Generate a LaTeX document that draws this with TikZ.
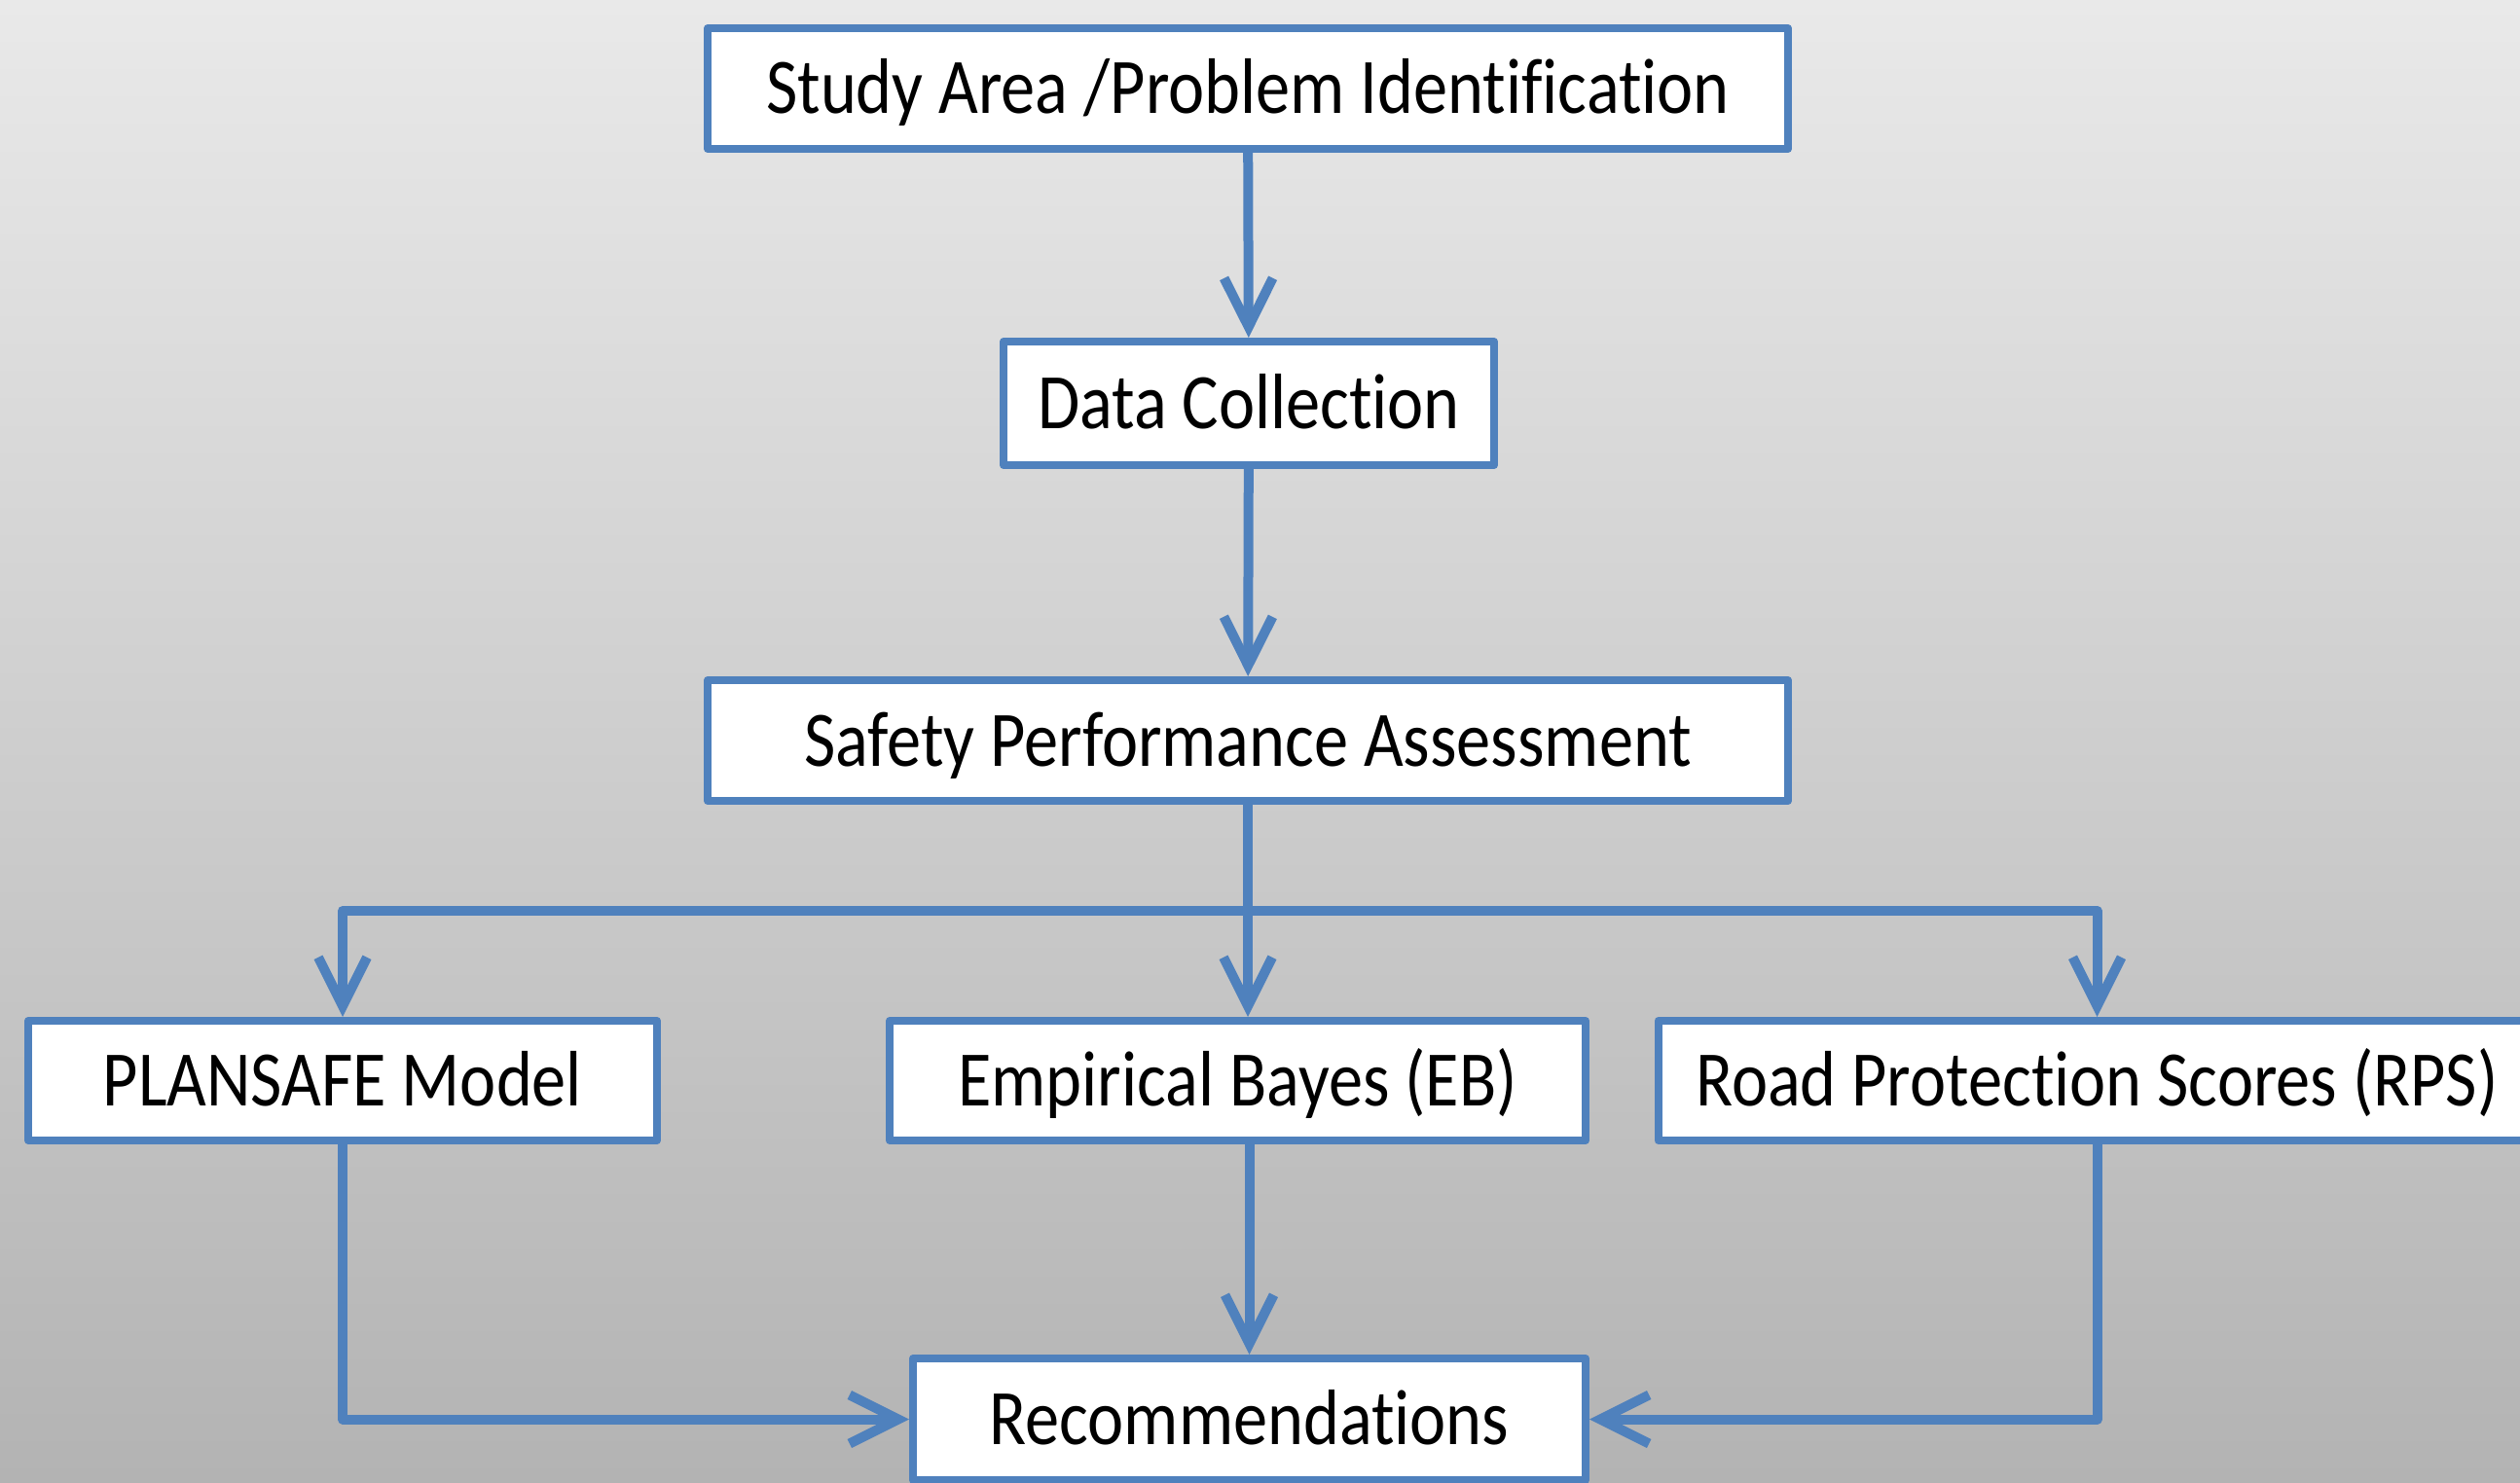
\documentclass[tikz,border=0pt]{standalone}
\usepackage{fontspec}
\setmainfont{Carlito}[FakeStretch=0.87,Ligatures=NoCommon]
\usepackage{tikz}
\usetikzlibrary{arrows.meta}
\usetikzlibrary{positioning}
\definecolor{FlowBlue}{RGB}{79,129,189}
\definecolor{PageTop}{RGB}{233,233,233}
\definecolor{PageBottom}{RGB}{179,179,179}

\begin{document}
\begin{tikzpicture}[line cap=round,line join=round,>={Straight Barb[length=0.5cm,width=0.5cm]},x=1cm,y=1cm,
  stage/.style={draw=FlowBlue,line width=0.08cm,fill=white,inner sep=0pt,minimum height=1.24cm,text height=0.52cm,text depth=0pt,font=\fontsize{23}{27}\selectfont},
  flow/.style={draw=FlowBlue,line width=0.1cm}]
\shade[top color=PageTop,bottom color=PageBottom] (0,0) rectangle (25.89,15.23);
\useasboundingbox (0,0) rectangle (25.89,15.23);
\node[stage,minimum width=11.10cm] (study) at (12.82,14.32) {Study Area /Problem Identification};
\node[stage,minimum width=5.04cm,minimum height=1.27cm] (data) at (12.83,11.085) {Data Collection};
\node[stage,minimum width=11.10cm] (spa) at (12.82,7.62) {Safety Performance Assessment};
\node[stage,minimum width=6.46cm,minimum height=1.23cm] (plansafe) at (3.52,4.125) {PLANSAFE Model};
\node[stage,minimum width=7.15cm,minimum height=1.23cm] (eb) at (12.715,4.125) {Empirical Bayes (EB)};
\node[stage,minimum width=9.02cm,minimum height=1.23cm] (rps) at (21.545,4.125) {Road Protection Scores (RPS)};
\node[stage,minimum width=6.91cm,minimum height=1.25cm] (rec) at (12.835,0.645) {Recommendations};
\coordinate (split) at (12.82,5.87);
\draw[flow,->] (study) -- (data);
\draw[flow,->] (data) -- (spa);
\draw[flow] (spa) -- (split);
\draw[flow,->] (split) -| (plansafe);
\draw[flow,->] (split) -| (rps);
\draw[flow,->] (split) -- (split |- eb.north);
\draw[flow,->] (plansafe) |- (rec);
\draw[flow,->] (rps) |- (rec);
\draw[flow,->] (rec.north |- eb.south) -- (rec);
\end{tikzpicture}
\end{document}
